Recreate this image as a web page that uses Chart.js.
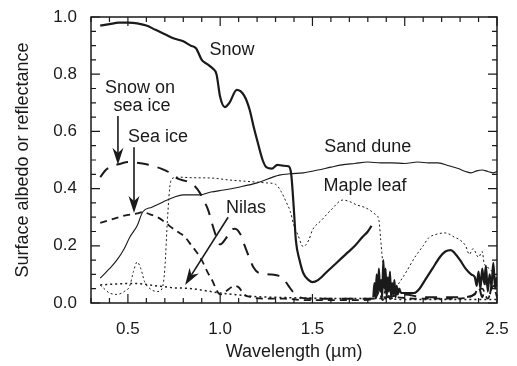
<!DOCTYPE html>
<html>
<head>
<meta charset="utf-8">
<script src="https://cdn.jsdelivr.net/npm/chart.js@4.4.1/dist/chart.umd.min.js"></script>
<style>
html, body { margin: 0; padding: 0; background: #fff; }
</style>
</head>
<body>
<canvas id="albedoChart" width="517" height="366"></canvas>
<script>
// tick labels
const xTicks = [0.5, 1.0, 1.5, 2.0, 2.5];
const yTicks = [0.0, 0.2, 0.4, 0.6, 0.8, 1.0];

// Snow (thick solid) - null breaks the line before the noisy water band
const snowX = [0.35,0.40,0.45,0.50,0.55,0.60,0.65,0.70,0.75,0.80,0.84,0.87,0.90,0.93,0.96,0.98,1.00,1.025,1.05,1.09,1.13,1.16,1.18,1.20,1.23,1.25,1.28,1.31,1.34,1.37,1.385,1.40,1.41,1.43,1.45,1.48,1.50,1.53,1.58,1.63,1.68,1.73,1.77,1.80,1.82,
  1.825,1.83,1.836,1.842,1.848,1.854,1.86,1.866,1.872,1.878,1.884,1.89,1.896,1.902,1.908,1.914,1.92,1.926,1.932,1.938,1.944,1.95,1.956,1.962,1.97,1.98,2.00,2.05,2.08,2.11,2.15,2.19,2.22,2.25,2.27,2.30,2.33,2.36,2.38,2.39,2.40,2.41,2.42,2.43,2.44,2.45,2.46,2.47,2.48,2.49,2.50];
const snowY = [0.97,0.975,0.98,0.98,0.978,0.97,0.955,0.94,0.925,0.915,0.90,0.89,0.85,0.835,0.82,0.80,0.72,0.685,0.70,0.745,0.725,0.675,0.62,0.57,0.50,0.475,0.47,0.483,0.48,0.478,0.45,0.32,0.22,0.15,0.105,0.08,0.073,0.08,0.11,0.14,0.17,0.20,0.23,0.25,0.27,
  null,0.02,0.07,0.02,0.10,0.03,0.12,0.04,0.08,0.02,0.15,0.05,0.12,0.02,0.09,0.04,0.11,0.02,0.07,0.03,0.08,0.02,0.06,0.03,0.05,0.035,0.035,0.035,0.05,0.08,0.12,0.16,0.18,0.185,0.175,0.15,0.12,0.10,0.09,0.06,0.11,0.05,0.12,0.07,0.13,0.04,0.10,0.06,0.14,0.05,0.09];

// Sand dune (thin solid)
const sandX = [0.35,0.40,0.44,0.48,0.51,0.55,0.58,0.63,0.69,0.75,0.80,0.89,0.95,1.02,1.10,1.20,1.32,1.38,1.45,1.53,1.60,1.66,1.73,1.80,1.87,1.93,2.00,2.07,2.13,2.18,2.24,2.29,2.33,2.36,2.39,2.42,2.45,2.48,2.50];
const sandY = [0.087,0.12,0.15,0.19,0.23,0.27,0.318,0.335,0.353,0.37,0.378,0.378,0.388,0.395,0.405,0.42,0.447,0.452,0.455,0.465,0.475,0.483,0.488,0.493,0.49,0.49,0.488,0.493,0.49,0.49,0.48,0.47,0.46,0.455,0.462,0.465,0.46,0.455,0.46];

// Maple leaf (fine dots)
const mapleX = [0.35,0.38,0.40,0.44,0.48,0.51,0.53,0.55,0.57,0.59,0.62,0.66,0.685,0.70,0.715,0.73,0.745,0.77,0.85,0.95,1.05,1.15,1.25,1.30,1.33,1.36,1.38,1.40,1.42,1.45,1.48,1.50,1.55,1.60,1.665,1.70,1.74,1.78,1.81,1.84,1.86,1.87,1.88,1.90,1.92,1.94,1.96,2.00,2.06,2.10,2.13,2.17,2.22,2.27,2.30,2.33,2.35,2.37,2.40,2.42,2.43,2.46,2.49];
const mapleY = [0.063,0.045,0.035,0.03,0.04,0.06,0.11,0.143,0.12,0.075,0.05,0.04,0.05,0.12,0.30,0.42,0.437,0.44,0.438,0.437,0.43,0.425,0.42,0.415,0.39,0.35,0.32,0.27,0.24,0.197,0.22,0.255,0.29,0.325,0.36,0.355,0.343,0.335,0.325,0.31,0.29,0.22,0.15,0.09,0.05,0.035,0.06,0.10,0.165,0.20,0.228,0.24,0.245,0.23,0.22,0.20,0.17,0.19,0.16,0.18,0.14,0.12,0.095];

// Snow on sea ice (long dash)
const snowIceX = [0.35,0.38,0.42,0.46,0.50,0.55,0.60,0.64,0.68,0.72,0.77,0.82,0.86,0.89,0.91,0.935,0.955,0.98,1.00,1.03,1.06,1.08,1.11,1.13,1.16,1.18,1.21,1.27,1.30,1.34,1.37,1.40,1.43,1.50,1.60,1.70,1.80,1.90,2.00,2.10,2.20,2.30,2.38,2.40,2.42,2.44,2.46,2.48,2.50];
const snowIceY = [0.44,0.465,0.48,0.487,0.493,0.49,0.485,0.478,0.47,0.458,0.435,0.425,0.41,0.385,0.36,0.325,0.28,0.23,0.205,0.225,0.255,0.26,0.24,0.205,0.155,0.125,0.105,0.10,0.098,0.087,0.06,0.035,0.02,0.015,0.015,0.015,0.015,0.02,0.03,0.02,0.02,0.02,0.03,0.06,0.02,0.08,0.03,0.10,0.04];

// Sea ice (medium dash)
const seaIceX = [0.35,0.40,0.45,0.50,0.55,0.58,0.62,0.66,0.70,0.74,0.78,0.81,0.84,0.87,0.90,0.93,0.96,0.98,1.00,1.03,1.06,1.08,1.10,1.13,1.17,1.25,1.35,1.45,1.55,1.65,1.75,1.84,1.86,1.88,1.90,1.92,1.95,2.05,2.15,2.25,2.35,2.42,2.45,2.48,2.50];
const seaIceY = [0.28,0.29,0.30,0.308,0.313,0.318,0.31,0.30,0.283,0.262,0.245,0.23,0.205,0.18,0.15,0.11,0.075,0.045,0.03,0.04,0.055,0.06,0.055,0.03,0.02,0.015,0.015,0.01,0.01,0.01,0.01,0.015,0.04,0.01,0.05,0.015,0.02,0.015,0.015,0.015,0.02,0.05,0.015,0.06,0.02];

// Nilas (dots)
const nilasX = [0.35,0.40,0.45,0.50,0.55,0.60,0.65,0.70,0.75,0.80,0.85,0.90,0.95,1.00,1.10,1.20,1.30,1.40,1.50,1.60,1.70,1.80,1.90,2.00,2.10,2.20,2.30,2.40,2.50];
const nilasY = [0.063,0.065,0.067,0.068,0.068,0.065,0.06,0.057,0.053,0.052,0.05,0.045,0.04,0.035,0.028,0.022,0.02,0.018,0.017,0.016,0.016,0.016,0.015,0.012,0.012,0.012,0.012,0.012,0.012];

// text on the plot, in data units
const labelTexts = ["Snow", "Snow on", "sea ice", "Sea ice", "Sand dune", "Maple leaf", "Nilas"];
const labelX = [1.064, 0.566, 0.576, 0.663, 1.80, 1.785, 1.14];
const labelY = [0.885, 0.752, 0.689, 0.58, 0.545, 0.41, 0.332];

// arrows: start -> tip, data units
const arrowFromX = [0.446, 0.533, 1.043];
const arrowFromY = [0.654, 0.545, 0.30];
const arrowToX = [0.446, 0.533, 0.81];
const arrowToY = [0.483, 0.315, 0.063];

const FONT = "'Liberation Sans', Arial, Helvetica, sans-serif";
const INK = "#1a1a1a";

function pts(xs, ys) {
    return xs.map((x, i) => ({ x: x, y: ys[i] }));
}

// box with inward ticks on all four sides
const frame = {
    id: "frame",
    afterDatasetsDraw(chart) {
        const { ctx, chartArea: a, scales: { x, y } } = chart;
        ctx.save();
        ctx.strokeStyle = INK;
        ctx.lineWidth = 1.5;
        ctx.strokeRect(a.left, a.top, a.right - a.left, a.bottom - a.top);
        ctx.lineWidth = 1.2;
        ctx.beginPath();
        for (let i = 3; i <= 25; i++) {
            const px = x.getPixelForValue(i / 10);
            const len = (i % 5 === 0) ? 9 : 5;
            ctx.moveTo(px, a.bottom); ctx.lineTo(px, a.bottom - len);
            ctx.moveTo(px, a.top); ctx.lineTo(px, a.top + len);
        }
        for (let i = 0; i <= 20; i++) {
            const py = y.getPixelForValue(i / 20);
            const len = (i % 4 === 0) ? 9 : 5;
            ctx.moveTo(a.left, py); ctx.lineTo(a.left + len, py);
            ctx.moveTo(a.right, py); ctx.lineTo(a.right - len, py);
        }
        ctx.stroke();
        ctx.restore();
    }
};

// labels and arrows
const notes = {
    id: "notes",
    afterDraw(chart) {
        const { ctx, scales: { x, y } } = chart;
        ctx.save();
        ctx.fillStyle = INK;
        ctx.font = "18px " + FONT;
        ctx.textAlign = "center";
        ctx.textBaseline = "middle";
        labelTexts.forEach((t, i) => {
            ctx.fillText(t, x.getPixelForValue(labelX[i]), y.getPixelForValue(labelY[i]));
        });
        ctx.strokeStyle = INK;
        ctx.lineWidth = 1.6;
        for (let i = 0; i < arrowFromX.length; i++) {
            const x0 = x.getPixelForValue(arrowFromX[i]), y0 = y.getPixelForValue(arrowFromY[i]);
            const x1 = x.getPixelForValue(arrowToX[i]), y1 = y.getPixelForValue(arrowToY[i]);
            const ang = Math.atan2(y1 - y0, x1 - x0);
            const hl = 17, hw = 5.5;
            const bx = x1 - hl * Math.cos(ang), by = y1 - hl * Math.sin(ang);
            const nx = x1 - hl * 0.7 * Math.cos(ang), ny = y1 - hl * 0.7 * Math.sin(ang);
            ctx.beginPath();
            ctx.moveTo(x0, y0);
            ctx.lineTo(nx, ny);
            ctx.stroke();
            ctx.beginPath();
            ctx.moveTo(x1, y1);
            ctx.lineTo(bx + hw * Math.sin(ang), by - hw * Math.cos(ang));
            ctx.lineTo(nx, ny);
            ctx.lineTo(bx - hw * Math.sin(ang), by + hw * Math.cos(ang));
            ctx.closePath();
            ctx.fill();
        }
        ctx.restore();
    }
};

const ctx = document.getElementById("albedoChart").getContext("2d");
new Chart(ctx, {
    type: "line",
    data: {
        datasets: [
            { label: "Nilas", data: pts(nilasX, nilasY), borderColor: INK, borderWidth: 1.5, borderDash: [2, 3] },
            { label: "Sea ice", data: pts(seaIceX, seaIceY), borderColor: INK, borderWidth: 1.8, borderDash: [7, 5] },
            { label: "Snow on sea ice", data: pts(snowIceX, snowIceY), borderColor: INK, borderWidth: 2, borderDash: [12, 9] },
            { label: "Maple leaf", data: pts(mapleX, mapleY), borderColor: INK, borderWidth: 1, borderDash: [2, 2.5] },
            { label: "Sand dune", data: pts(sandX, sandY), borderColor: INK, borderWidth: 1.1 },
            { label: "Snow", data: pts(snowX, snowY), borderColor: INK, borderWidth: 2.2 }
        ]
    },
    options: {
        responsive: false,
        animation: false,
        layout: { padding: { left: 6, right: 20, top: 17, bottom: 0 } },
        elements: {
            point: { radius: 0 },
            line: { cubicInterpolationMode: "monotone", fill: false }
        },
        plugins: { legend: { display: false }, tooltip: { enabled: false } },
        scales: {
            x: {
                type: "linear",
                min: 0.3,
                max: 2.5,
                afterBuildTicks: s => { s.ticks = xTicks.map(v => ({ value: v })); },
                afterFit: s => { s.height = 63; s.paddingLeft = 0; s.paddingRight = 0; },
                grid: { display: false, drawTicks: false },
                border: { display: false },
                ticks: {
                    padding: 16,
                    color: INK,
                    font: { family: FONT, size: 17 },
                    maxRotation: 0,
                    autoSkip: false,
                    callback: v => v.toFixed(1)
                },
                title: {
                    display: true,
                    text: "Wavelength (µm)",
                    color: INK,
                    font: { family: FONT, size: 18 },
                    padding: { top: 0, bottom: 3 }
                }
            },
            y: {
                min: 0,
                max: 1,
                afterBuildTicks: s => { s.ticks = yTicks.map(v => ({ value: v })); },
                afterFit: s => { s.width = 85; s.paddingTop = 0; s.paddingBottom = 0; },
                grid: { display: false, drawTicks: false },
                border: { display: false },
                ticks: {
                    padding: 14,
                    color: INK,
                    font: { family: FONT, size: 17 },
                    callback: v => v.toFixed(1)
                },
                title: {
                    display: true,
                    text: "Surface albedo or reflectance",
                    color: INK,
                    font: { family: FONT, size: 18 },
                    padding: { top: 6, bottom: 0 }
                }
            }
        }
    },
    plugins: [frame, notes]
});
</script>
</body>
</html>
